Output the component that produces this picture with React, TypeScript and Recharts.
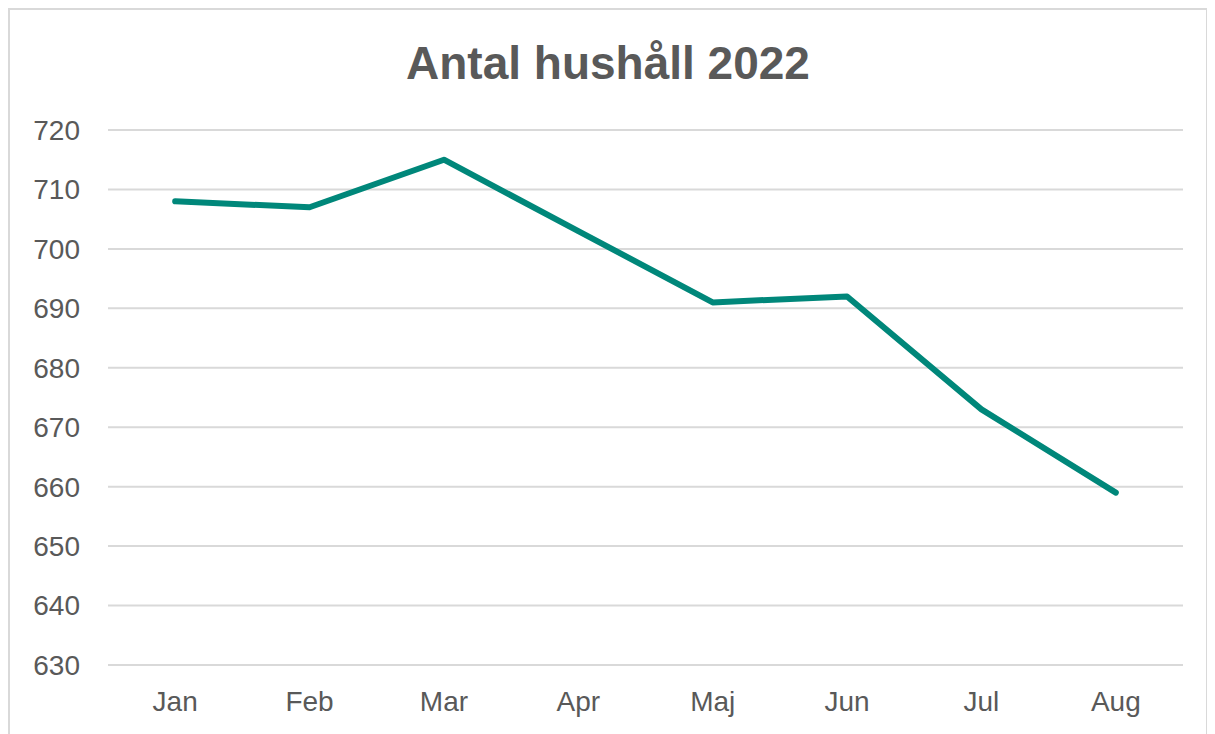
import { LineChart, Line, XAxis, YAxis, CartesianGrid } from "recharts";

const months = ["Jan", "Feb", "Mar", "Apr", "Maj", "Jun", "Jul", "Aug"];
const households = [708, 707, 715, 703, 691, 692, 673, 659];
const yTicks = [630, 640, 650, 660, 670, 680, 690, 700, 710, 720];

const data = months.map((m, i) => ({ month: m, value: households[i] }));

const FONT = "'Liberation Sans', Arial, sans-serif";
const TEXT = "#595959";

if (typeof document !== "undefined") document.body.style.overflow = "hidden";

export default function App() {
  return (
    <div
      style={{
        position: "relative",
        width: 1196,
        height: 730,
        border: "2px solid #d9d9d9",
        background: "#fff",
        fontFamily: FONT,
      }}
    >
      <div
        style={{
          position: "absolute",
          top: 26,
          left: 0,
          width: "100%",
          textAlign: "center",
          fontSize: 46,
          fontWeight: "bold",
          color: TEXT,
          lineHeight: "54px",
        }}
      >
        Antal hushåll 2022
      </div>
      <LineChart
        width={1195}
        height={720}
        data={data}
        margin={{ top: 120, right: 22, bottom: 5, left: 38 }}
      >
        <CartesianGrid vertical={false} stroke="#d9d9d9" strokeWidth={2} />
        <XAxis
          dataKey="month"
          scale="band"
          axisLine={false}
          tickLine={false}
          tickSize={0}
          tickMargin={26}
          height={60}
          interval={0}
          tick={{ fontSize: 28, fill: TEXT, fontFamily: FONT }}
        />
        <YAxis
          domain={[630, 720]}
          ticks={yTicks}
          axisLine={false}
          tickLine={false}
          tickSize={0}
          tickMargin={28}
          width={60}
          interval={0}
          tick={{ fontSize: 28, fill: TEXT, fontFamily: FONT }}
        />
        <Line
          type="linear"
          dataKey="value"
          stroke="#00877a"
          strokeWidth={6}
          strokeLinecap="round"
          strokeLinejoin="round"
          dot={false}
          activeDot={false}
          isAnimationActive={false}
        />
      </LineChart>
    </div>
  );
}
